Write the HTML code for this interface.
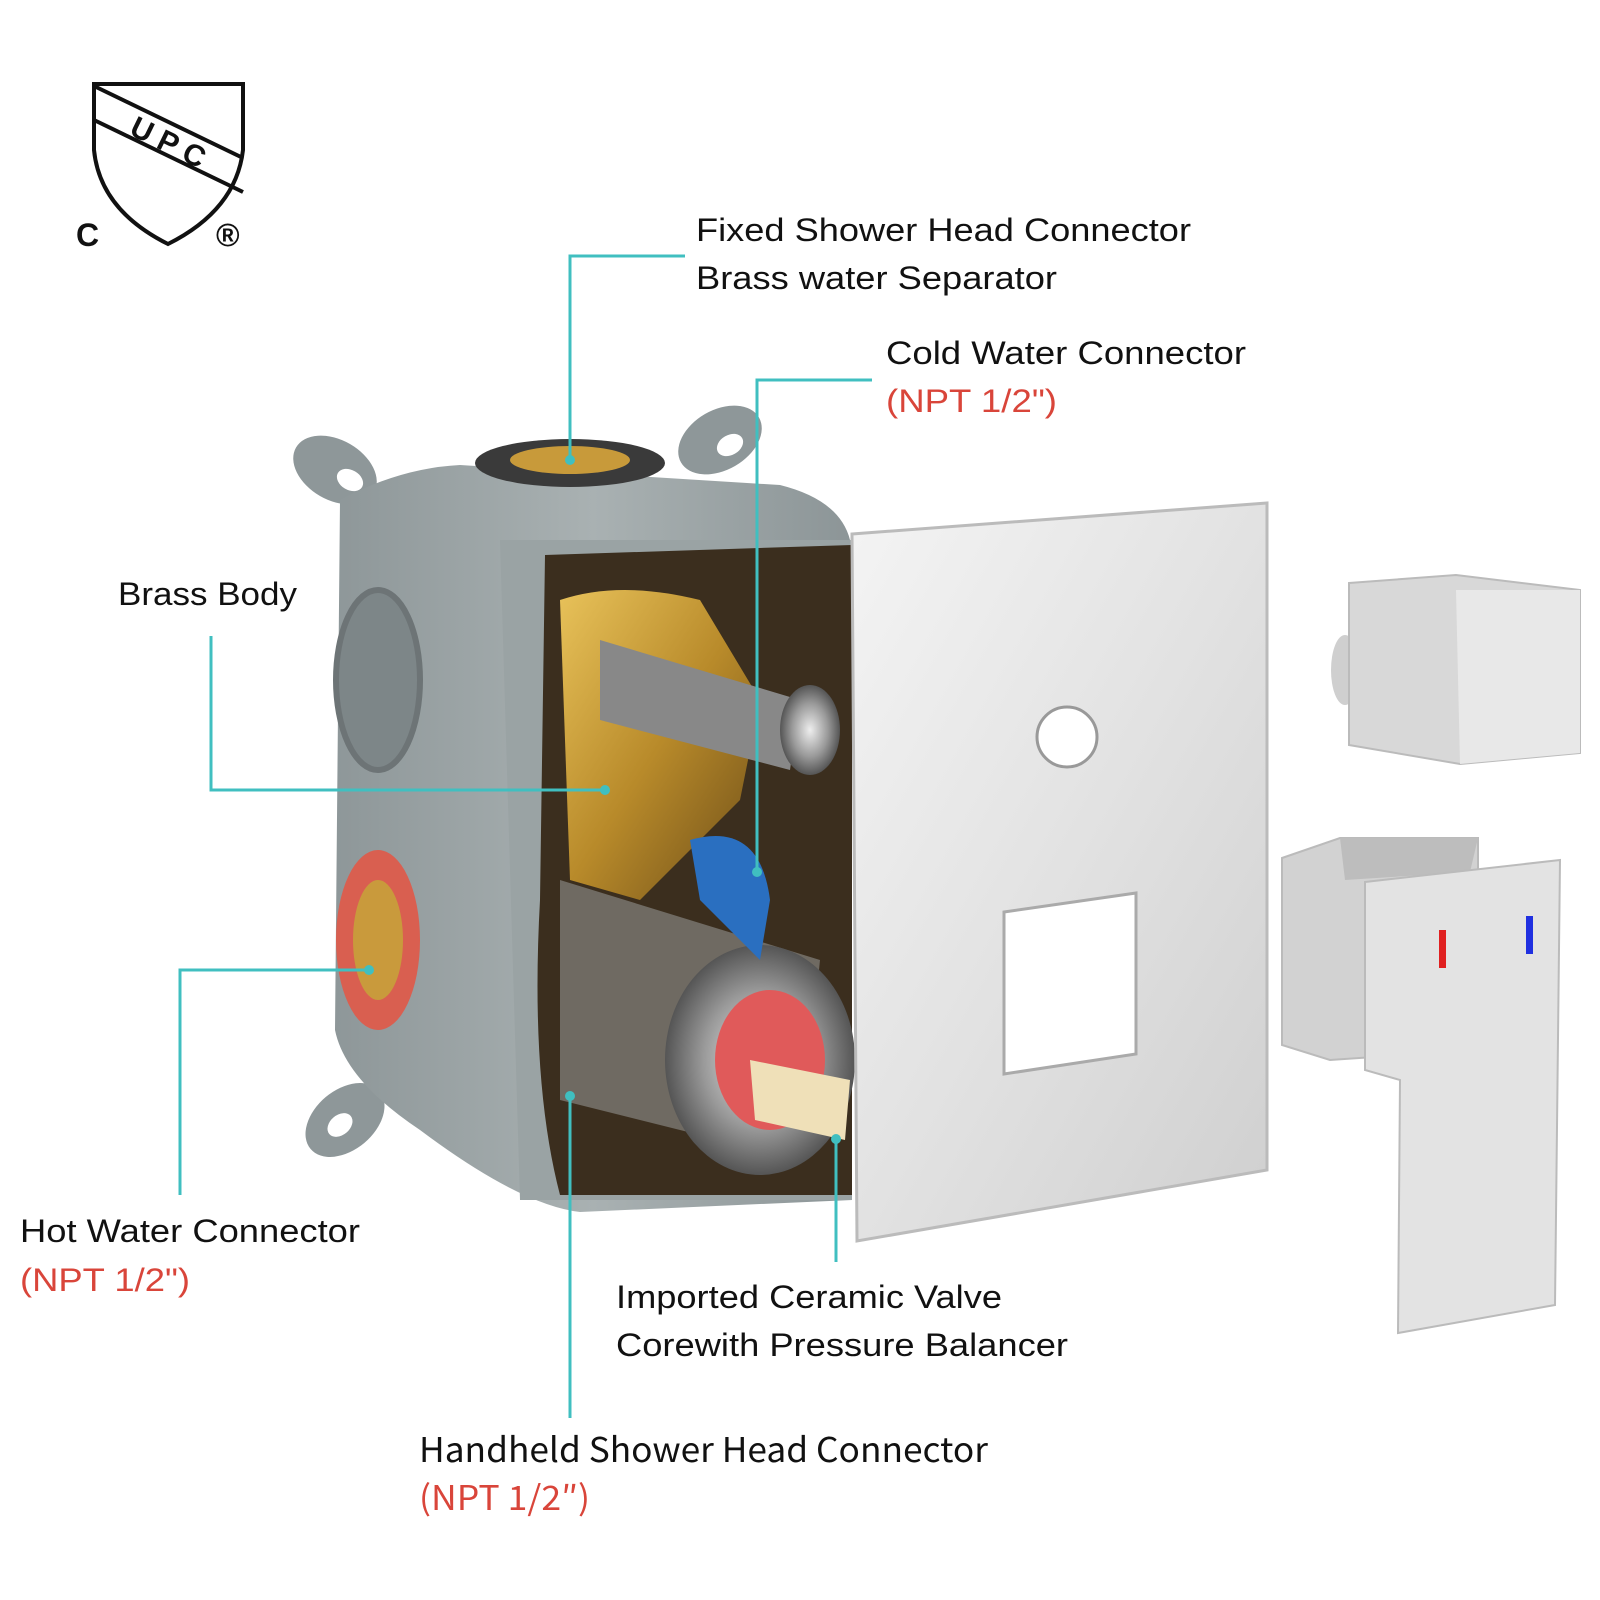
<!DOCTYPE html>
<html><head><meta charset="utf-8"><style>
html,body{margin:0;padding:0;background:#fff;}
svg{display:block}
text{font-family:"Liberation Sans",Arial,sans-serif;font-size:32px;fill:#111}
</style></head><body>
<svg width="1600" height="1600" viewBox="0 0 1600 1600" xmlns="http://www.w3.org/2000/svg">
<defs>
<linearGradient id="plate" x1="0" y1="0" x2="1" y2="1"><stop offset="0" stop-color="#f4f4f4"/><stop offset="0.5" stop-color="#e2e2e2"/><stop offset="1" stop-color="#cfcfcf"/></linearGradient>
<linearGradient id="box" x1="0" y1="0" x2="1" y2="0"><stop offset="0" stop-color="#8e9799"/><stop offset="0.5" stop-color="#a9b1b2"/><stop offset="1" stop-color="#8c9597"/></linearGradient>
<linearGradient id="brass" x1="0" y1="0" x2="1" y2="1"><stop offset="0" stop-color="#e8c25a"/><stop offset="0.5" stop-color="#b88a2a"/><stop offset="1" stop-color="#6b4c18"/></linearGradient>
<radialGradient id="chrome"><stop offset="0" stop-color="#eee"/><stop offset="0.6" stop-color="#999"/><stop offset="1" stop-color="#555"/></radialGradient>
</defs>

<!-- UPC logo -->
<path d="M94 84 L243 84 L243 150 Q236 210 168 244 Q100 210 94 150 Z" fill="none" stroke="#111" stroke-width="4"/>
<path d="M94 86 L243 158" stroke="#111" stroke-width="4"/>
<path d="M94 120 L243 192" stroke="#111" stroke-width="4"/>
<text x="128" y="134" style="font-size:30px;font-weight:bold" transform="rotate(26 128 134)">U P C</text>
<text x="76" y="246" style="font-size:32px;font-weight:bold">C</text>
<text x="216" y="246" style="font-size:32px;font-weight:bold">®</text>

<!-- Box ears -->
<g fill="#8e9799">
<ellipse cx="335" cy="470" rx="45" ry="30" transform="rotate(30 335 470)"/>
<ellipse cx="720" cy="440" rx="45" ry="30" transform="rotate(-30 720 440)"/>
<ellipse cx="345" cy="1120" rx="45" ry="30" transform="rotate(-40 345 1120)"/>
</g>
<g fill="#fff"><ellipse cx="350" cy="480" rx="14" ry="10" transform="rotate(30 350 480)"/><ellipse cx="730" cy="445" rx="14" ry="10" transform="rotate(-30 730 445)"/><ellipse cx="340" cy="1125" rx="14" ry="10" transform="rotate(-40 340 1125)"/></g>
<!-- Box body -->
<path d="M340 500 Q400 468 460 465 L780 485 Q840 500 850 540 L852 1200 L580 1212 Q520 1205 420 1130 Q345 1080 335 1030 Z" fill="url(#box)"/>
<path d="M500 540 L852 540 L852 1200 L520 1200 Z" fill="#9aa3a4"/>
<ellipse cx="570" cy="463" rx="95" ry="24" fill="#3a3a3a"/>
<ellipse cx="570" cy="460" rx="60" ry="14" fill="#c89a3a"/>
<ellipse cx="378" cy="680" rx="42" ry="90" fill="#7d8688" stroke="#6d7476" stroke-width="6"/>
<ellipse cx="378" cy="940" rx="42" ry="90" fill="#d95f50"/>
<ellipse cx="378" cy="940" rx="25" ry="60" fill="#c99a3c"/>
<!-- interior -->
<path d="M545 555 L852 545 L852 1195 L560 1195 Q530 1080 540 900 Z" fill="#3b2e1e"/>
<path d="M560 600 Q620 580 700 600 L760 700 L740 800 L640 900 L570 880 Z" fill="url(#brass)"/>
<path d="M600 640 L800 700 L790 770 L600 720 Z" fill="#888"/>
<ellipse cx="810" cy="730" rx="30" ry="45" fill="url(#chrome)"/>
<path d="M560 880 L820 960 L800 1160 L560 1100 Z" fill="#6f6a62"/>
<ellipse cx="760" cy="1060" rx="95" ry="115" fill="url(#chrome)"/>
<ellipse cx="770" cy="1060" rx="55" ry="70" fill="#e05a5a"/>
<path d="M750 1060 L850 1080 L845 1140 L755 1120 Z" fill="#efe0b8"/>
<path d="M690 840 Q760 820 770 900 L760 960 L700 900 Z" fill="#2a6fc0"/>

<!-- Cover plate -->
<path d="M852 534 L1267 503 L1267 1170 L857 1241 Z" fill="url(#plate)" stroke="#bbb" stroke-width="3"/>
<circle cx="1067" cy="737" r="30" fill="#fff" stroke="#999" stroke-width="3"/>
<path d="M1004 912 L1136 893 L1136 1054 L1004 1074 Z" fill="#fff" stroke="#aaa" stroke-width="3"/>

<!-- Knob -->
<ellipse cx="1345" cy="670" rx="14" ry="35" fill="#cfcfcf"/>
<path d="M1349 583 L1456 575 L1580 590 L1580 753 L1460 764 L1349 745 Z" fill="#d8d8d8" stroke="#bbb" stroke-width="2"/>
<path d="M1456 590 L1580 590 L1580 753 L1460 764 Z" fill="#e8e8e8"/>

<!-- Handle -->
<path d="M1282 858 L1340 838 L1478 838 L1478 1050 L1330 1060 L1282 1045 Z" fill="#d2d2d2" stroke="#bbb" stroke-width="2"/>
<path d="M1340 838 L1478 838 L1470 872 L1345 880 Z" fill="#bdbdbd"/>
<path d="M1365 882 L1560 860 L1555 1305 L1398 1333 L1400 1080 L1365 1070 Z" fill="#e3e3e3" stroke="#bbb" stroke-width="2"/>
<rect x="1439" y="930" width="7" height="38" fill="#e02020"/>
<rect x="1526" y="916" width="7" height="38" fill="#2030e0"/>

<!-- Leader lines -->
<g stroke="#40bfc0" stroke-width="3" fill="none">
<polyline points="685,256 570,256 570,460"/>
<polyline points="872,380 757,380 757,872"/>
<polyline points="211,636 211,790 605,790"/>
<polyline points="180,1195 180,970 369,970"/>
<polyline points="570,1096 570,1418"/>
<polyline points="836,1139 836,1262"/>
</g>
<g fill="#40bfc0">
<circle cx="570" cy="460" r="5"/><circle cx="757" cy="872" r="5"/><circle cx="605" cy="790" r="5"/>
<circle cx="369" cy="970" r="5"/><circle cx="570" cy="1096" r="5"/><circle cx="836" cy="1139" r="5"/>
</g>

<!-- Labels -->
<text x="696" y="241" textLength="495" lengthAdjust="spacingAndGlyphs">Fixed Shower Head Connector</text>
<text x="696" y="289" textLength="361" lengthAdjust="spacingAndGlyphs">Brass water Separator</text>
<text x="886" y="364" textLength="360" lengthAdjust="spacingAndGlyphs">Cold Water Connector</text>
<text x="886" y="412" textLength="171" lengthAdjust="spacingAndGlyphs" style="fill:#d9453a">(NPT 1/2")</text>
<text x="118" y="605" textLength="179" lengthAdjust="spacingAndGlyphs">Brass Body</text>
<text x="20" y="1242" textLength="340" lengthAdjust="spacingAndGlyphs">Hot Water Connector</text>
<text x="20" y="1291" textLength="170" lengthAdjust="spacingAndGlyphs" style="fill:#d9453a">(NPT 1/2")</text>
<text x="616" y="1308" textLength="386" lengthAdjust="spacingAndGlyphs">Imported Ceramic Valve</text>
<text x="616" y="1356" textLength="452" lengthAdjust="spacingAndGlyphs">Corewith Pressure Balancer</text>
<text x="419" y="1462" textLength="569" lengthAdjust="spacingAndGlyphs" style="font-family:'Noto Sans CJK SC','DejaVu Sans Condensed',sans-serif;font-size:34px">Handheld Shower Head Connector</text>
<text x="419" y="1510" textLength="171" lengthAdjust="spacingAndGlyphs" style="font-family:'Noto Sans CJK SC','DejaVu Sans Condensed',sans-serif;font-size:34px;fill:#d9453a">(NPT 1/2″)</text>
</svg>
</body></html>
